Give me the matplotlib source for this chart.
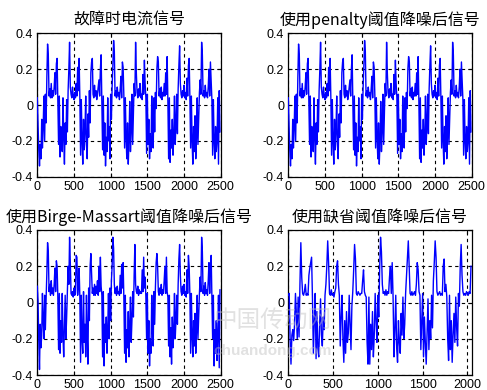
import numpy as np
import matplotlib
matplotlib.use('Agg')
import matplotlib.pyplot as plt

plt.rcParams['font.family'] = ['Liberation Sans', 'DejaVu Sans']

titles = ['故障时电流信号', '使用penalty阈值降噪后信号',
          '使用Birge-Massart阈值降噪后信号', '使用缺省阈值降噪后信号']

step = 10  # sample spacing of the read-off values

# 故障时电流信号 (read every 10 samples, 0..2490)
y_fault = [
    0.04, -0.10, -0.25, -0.34, -0.22, -0.30, -0.08, -0.24, -0.12, 0.05, -0.20, 0.06, -0.10, 0.15, 0.34,
    0.28, 0.05, 0.09, 0.04, 0.12, 0.04, 0.08, 0.05, 0.10, 0.18, 0.06, 0.23, 0.26, 0.02, -0.22,
    0.05, -0.29, -0.12, -0.20, -0.26, 0.04, -0.18, -0.33, -0.10, -0.22, 0.03, -0.15, 0.08, 0.20, 0.35,
    0.10, 0.06, 0.04, 0.10, 0.05, 0.03, 0.07, 0.04, 0.12, 0.05, 0.21, 0.08, 0.26, 0.04, -0.28,
    0.03, -0.20, -0.33, -0.08, -0.25, -0.15, 0.05, -0.22, -0.30, -0.05, -0.18, 0.08, -0.10, 0.18, 0.24,
    0.26, 0.06, 0.04, 0.11, 0.05, 0.08, 0.03, 0.06, 0.10, 0.14, 0.05, 0.20, 0.28, 0.03, -0.25,
    0.05, -0.28, -0.10, -0.34, -0.18, -0.26, 0.04, -0.20, -0.12, -0.30, 0.06, -0.08, 0.10, 0.22, 0.36,
    0.30, 0.05, 0.08, 0.04, 0.10, 0.05, 0.07, 0.03, 0.09, 0.16, 0.04, 0.24, 0.21, 0.05, -0.24,
    0.04, -0.18, -0.30, -0.10, -0.33, -0.20, 0.02, -0.26, -0.14, 0.06, -0.22, -0.05, 0.12, 0.05, 0.35,
    0.18, 0.07, 0.04, 0.09, 0.05, 0.12, 0.04, 0.06, 0.03, 0.17, 0.06, 0.25, 0.12, 0.04, -0.27,
    0.06, -0.22, -0.08, -0.30, -0.16, -0.26, 0.05, -0.12, -0.24, 0.04, -0.15, 0.07, -0.02, 0.20, 0.27,
    0.24, 0.05, 0.09, 0.04, 0.10, 0.03, 0.07, 0.05, 0.12, 0.05, 0.18, 0.06, 0.27, 0.02, -0.30,
    0.04, -0.32, -0.14, -0.24, -0.08, -0.28, -0.18, 0.05, -0.22, -0.10, 0.06, -0.16, 0.09, 0.22, 0.33,
    0.12, 0.06, 0.04, 0.08, 0.05, 0.11, 0.04, 0.07, 0.03, 0.15, 0.05, 0.22, 0.26, 0.04, -0.24,
    0.05, -0.20, -0.33, -0.12, -0.26, -0.06, -0.30, -0.18, 0.04, -0.22, -0.08, 0.07, 0.14, 0.06, 0.35,
    0.28, 0.05, 0.08, 0.04, 0.11, 0.05, 0.07, 0.04, 0.10, 0.20, 0.05, 0.24, 0.14, 0.03, -0.28,
    0.03, -0.20, -0.30, -0.12, -0.26, -0.20, 0.04, -0.33, 0.08, -0.15,
]

# penalty 阈值降噪 -- looks the same as the original
y_penalty = list(y_fault)

# Birge-Massart 阈值降噪
y_bm = [
    0.09, 0.01, -0.21, -0.37, -0.12, -0.25, -0.18, 0.05, -0.10, -0.20, 0.04, -0.15, 0.02, 0.16, 0.33,
    0.28, 0.06, 0.10, 0.04, 0.12, 0.05, 0.08, 0.04, 0.10, 0.19, 0.06, 0.23, 0.20, 0.03, -0.26,
    0.05, -0.28, -0.10, -0.22, 0.05, -0.18, -0.30, -0.12, 0.04, -0.20, -0.08, 0.06, 0.20, 0.10, 0.36,
    0.22, 0.05, 0.04, 0.06, 0.03, 0.08, 0.04, 0.05, 0.26, 0.25, 0.04, 0.10, 0.19, 0.03, -0.33,
    0.04, -0.20, -0.28, 0.06, -0.22, -0.12, -0.30, 0.04, -0.18, -0.34, 0.08, -0.10, 0.20, 0.27, 0.16,
    0.05, 0.08, 0.04, 0.10, 0.04, 0.09, 0.05, 0.12, 0.04, 0.20, 0.06, 0.25, 0.09, 0.04, -0.30,
    0.06, -0.35, -0.12, -0.22, -0.08, -0.28, -0.15, 0.05, -0.20, 0.08, -0.10, 0.12, 0.20, 0.36, 0.30,
    0.10, 0.05, 0.08, 0.04, 0.09, 0.05, 0.06, 0.04, 0.15, 0.05, 0.21, 0.08, 0.22, 0.02, -0.28,
    0.04, -0.33, -0.15, -0.25, -0.05, -0.30, -0.12, 0.03, -0.22, -0.10, 0.06, -0.08, 0.15, 0.32, 0.10,
    0.06, 0.05, 0.09, 0.04, 0.07, 0.05, 0.06, 0.05, 0.18, 0.06, 0.25, 0.08, 0.14, 0.03, -0.20,
    0.05, -0.28, -0.10, -0.35, -0.20, -0.28, 0.04, -0.15, -0.24, 0.06, -0.12, 0.08, 0.22, 0.27, 0.20,
    0.06, 0.04, 0.08, 0.05, 0.10, 0.04, 0.07, 0.05, 0.12, 0.20, 0.05, 0.25, 0.06, 0.03, -0.24,
    0.04, -0.30, -0.14, -0.34, -0.08, -0.25, -0.16, 0.05, -0.20, -0.10, 0.04, -0.12, 0.10, 0.24, 0.32,
    0.15, 0.06, 0.04, 0.09, 0.05, 0.10, 0.04, 0.06, 0.03, 0.18, 0.05, 0.26, 0.20, 0.04, -0.28,
    0.05, -0.18, -0.30, -0.10, -0.24, -0.06, -0.28, -0.16, 0.04, -0.20, -0.08, 0.05, 0.14, 0.06, 0.36,
    0.28, 0.05, 0.09, 0.04, 0.11, 0.05, 0.07, 0.04, 0.12, 0.22, 0.05, 0.20, 0.26, 0.03, -0.20,
    0.04, -0.35, -0.15, -0.28, -0.10, -0.32, -0.18, 0.04, -0.36, 0.07,
]

# 缺省阈值降噪 (only 0..2040)
y_default = [
    0.04, 0.05, -0.20, -0.34, -0.18, -0.15, -0.21, -0.12, 0.05, -0.06, -0.20, 0.03, -0.19, 0.10, 0.33,
    0.14, 0.05, 0.04, 0.06, 0.10, 0.04, 0.05, 0.04, 0.15, 0.19, 0.22, 0.25, 0.02, -0.28, -0.10,
    0.05, -0.31, -0.05, -0.25, -0.30, -0.12, 0.02, -0.18, -0.24, -0.08, -0.15, 0.04, 0.10, 0.20, 0.34,
    0.22, 0.05, 0.04, 0.07, 0.04, 0.05, 0.03, 0.06, 0.08, 0.20, 0.23, 0.10, 0.04, -0.24, -0.08,
    0.04, -0.20, -0.33, -0.10, -0.28, -0.05, -0.22, -0.17, 0.04, -0.12, -0.26, -0.02, 0.06, 0.18, 0.32,
    0.24, 0.05, 0.04, 0.06, 0.05, 0.04, 0.05, 0.05, 0.12, 0.18, 0.06, 0.04, 0.03, -0.22, -0.34,
    0.03, -0.34, -0.12, -0.26, -0.05, -0.30, -0.18, 0.05, -0.10, -0.22, 0.04, -0.08, 0.18, 0.36, 0.28,
    0.10, 0.05, 0.06, 0.04, 0.07, 0.04, 0.06, 0.05, 0.14, 0.20, 0.05, 0.22, 0.03, -0.30, -0.15,
    0.04, -0.25, -0.33, -0.10, -0.22, -0.28, -0.06, -0.18, 0.03, -0.20, -0.12, 0.05, 0.15, 0.24, 0.34,
    0.20, 0.05, 0.04, 0.06, 0.04, 0.05, 0.06, 0.04, 0.10, 0.22, 0.18, 0.06, 0.04, -0.26, -0.10,
    0.05, -0.30, -0.08, -0.22, -0.34, -0.15, 0.02, -0.26, -0.10, -0.20, 0.04, -0.14, 0.12, 0.22, 0.34,
    0.25, 0.06, 0.04, 0.05, 0.06, 0.04, 0.05, 0.04, 0.20, 0.24, 0.06, 0.10, 0.03, -0.20, -0.32,
    0.04, -0.26, -0.10, -0.33, -0.18, -0.06, -0.22, 0.03, -0.14, -0.24, 0.05, -0.02, 0.20, 0.32, 0.15,
    0.06, 0.04, 0.05, 0.04, 0.06, 0.05, 0.04, 0.06, 0.05, 0.20,
]

series = [y_fault, y_penalty, y_bm, y_default]
xmax = [2500, 2500, 2500, 2048]
xticks = [[0, 500, 1000, 1500, 2000, 2500]] * 3 + [[0, 500, 1000, 1500, 2000]]
yticks = [-0.4, -0.2, 0, 0.2, 0.4]
ytick_labels = ['-0.4', '-0.2', '0', '0.2', '0.4']

W, H = 487, 390
fig = plt.figure(figsize=(W / 100, H / 100), dpi=100)
# axes boxes in pixels: left, top, right, bottom
boxes = [(37.3, 33.3, 220.7, 176.7), (288.3, 33.3, 471.7, 176.7),
         (37.3, 230, 220.7, 375), (288.3, 230, 471.7, 375)]

for i in range(4):
    l, t, r, b = boxes[i]
    ax = fig.add_axes([l / W, 1 - b / H, (r - l) / W, (b - t) / H])
    y = np.array(series[i])
    x = np.arange(len(y)) * step
    ax.plot(x, y, color='#0000ff', lw=1.0, zorder=3)
    ax.set_xlim(0, xmax[i])
    ax.set_ylim(-0.4, 0.4)
    ax.set_xticks(xticks[i])
    ax.set_yticks(yticks)
    ax.set_yticklabels(ytick_labels)
    ax.grid(True, color='black', ls=(0, (3, 3)), lw=0.8)
    ax.tick_params(direction='in', length=3, labelsize=9, pad=3,
                   top=True, right=True, colors='black')
    for s in ax.spines.values():
        s.set_linewidth(0.9)
    ax.set_title(titles[i], fontsize=11.5, pad=6,
                 family=['Noto Sans CJK SC', 'DejaVu Sans'])

# faint site watermark
fig.text(0.56, 0.18, '中国传动网', fontsize=17, color='#bdbdbd', alpha=0.45,
         ha='center', va='center', family=['Noto Sans CJK SC'], zorder=10)
fig.text(0.56, 0.10, 'chuandong.com', fontsize=11, color='#bdbdbd', alpha=0.45,
         ha='center', va='center', fontweight='bold', zorder=10)

fig.savefig('out.png', dpi=100)
